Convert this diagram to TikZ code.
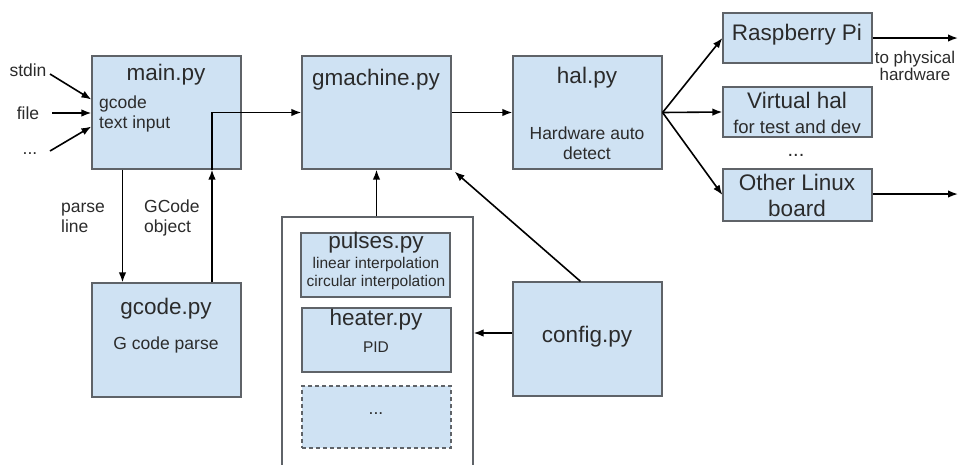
\documentclass[tikz,border=0pt]{standalone}
\usepackage{fontspec}
\setmainfont{Liberation Sans}
\usetikzlibrary{arrows.meta,calc}
\definecolor{boxfill}{HTML}{CFE2F3}
\definecolor{boxline}{HTML}{5F6368}
\definecolor{txt}{HTML}{2B2B2B}
\tikzset{
  box/.style={draw=boxline, fill=boxfill, line width=1.2pt, rectangle, inner sep=0pt},
  plainbox/.style={draw=boxline, fill=white, line width=1.2pt, rectangle, inner sep=0pt},
  dbox/.style={box, dashed, dash pattern=on 4pt off 3pt},
  arr/.style={draw=black, line width=1.6pt, -{Latex[length=10pt,width=7.5pt]}},
  ttl/.style={inner sep=0pt, text=txt, font=\fontsize{22.5}{26}\selectfont, align=center},
  sub/.style={inner sep=0pt, text=txt, font=\fontsize{17.5}{20}\selectfont, align=center},
  small/.style={inner sep=0pt, text=txt, font=\fontsize{15.5}{17.5}\selectfont, align=center},
  lbl/.style={inner sep=0pt, text=txt, font=\fontsize{17.5}{20}\selectfont, align=left},
}
\begin{document}
\begin{tikzpicture}[x=1pt,y=-1pt]
\useasboundingbox (0,0) rectangle (963,464);
\clip (0,0) rectangle (963,464);
% boxes
\node[box, minimum width=149pt, minimum height=113pt] (main) at (166.5,112.5) {};
\node[box, minimum width=149pt, minimum height=114pt] (gc) at (166.5,340) {};
\node[box, minimum width=149pt, minimum height=113pt] (gm) at (376.5,112.5) {};
\node[box, minimum width=149pt, minimum height=113pt] (hal) at (587.5,112.5) {};
\node[box, minimum width=149pt, minimum height=114pt] (cfg) at (587.5,339) {};
\node[plainbox, minimum width=191pt, minimum height=260pt] (cont) at (377.5,347) {};
\node[box, minimum width=149pt, minimum height=64pt] (pul) at (375.5,265) {};
\node[box, minimum width=149pt, minimum height=64pt] (heat) at (376.5,340) {};
\node[dbox, minimum width=149pt, minimum height=62pt] (more) at (376.5,417) {};
\node[box, minimum width=149pt, minimum height=50pt] (rpi) at (797.5,38) {};
\node[box, minimum width=149pt, minimum height=50pt] (vh) at (797.5,112) {};
\node[box, minimum width=149pt, minimum height=52pt] (ol) at (797.5,195) {};
% texts
\node[ttl] (tmain) at (166,75) {main.py};
\node[lbl, anchor=west] (tmain2) at (99,114) {gcode\\text input};
\node[ttl] (tgc) at (166,309) {gcode.py};
\node[sub] (tgc2) at (166,345) {G code parse};
\node[ttl] (tgm) at (376,80) {gmachine.py};
\node[ttl] (thal) at (587,78) {hal.py};
\node[sub] (thal2) at (587,143) {Hardware auto\\detect};
\node[ttl] (tcfg) at (587,337) {config.py};
\node[ttl] (tpul) at (376,243) {pulses.py};
\node[small] (tpul2) at (376,273.5) {linear interpolation\\circular interpolation};
\node[ttl] (theat) at (376,320) {heater.py};
\node[small] (theat2) at (376,347) {PID};
\node[sub, anchor=base] (tmore) at (376,414) {...};
\node[ttl] (trpi) at (797,35) {Raspberry Pi};
\node[ttl] (tvh) at (797,100) {Virtual hal};
\node[sub, font=\fontsize{18.5}{20}\selectfont] (tvh2) at (797,127) {for test and dev};
\node[ttl] (tol) at (797,195) {Other Linux\\board};
\node[sub, font=\fontsize{20}{22}\selectfont, anchor=base] (tdots) at (796,156) {...};
\node[sub, font=\fontsize{17}{17}\selectfont] (tphys) at (915,66) {to physical\\hardware};
% left inputs
\node[lbl] (stdin) at (28,70) {stdin};
\node[lbl] (file) at (28,113) {file};
\node[lbl, anchor=base] (dots) at (30,154) {...};
\coordinate (s1) at (50,74);
\coordinate (s2) at (52,113);
\coordinate (s3) at (50,151);
\draw[arr] (s1) -- ([yshift=13pt]main.west);
\draw[arr] (s2) -- (main.west |- s2);
\draw[arr] (s3) -- ([yshift=-14pt]main.west);
% main <-> gcode
\node[lbl, anchor=west] (tparse) at (61,218) {parse\\line};
\node[lbl, anchor=west] (tobj) at (144,218) {GCode\\object};
\draw[arr] ([xshift=-44pt]main.south) -- ([xshift=-44pt]gc.north);
\coordinate (up) at ([xshift=45.5pt]main.south);
\draw[arr] ([xshift=45.5pt]gc.north) -- (up);
\draw[arr] (up) |- (gm.west);
% gmachine -> hal
\draw[arr] (gm.east) -- (hal.west);
% container -> gmachine
\draw[arr] (cont.north -| gm.south) -- (gm.south);
% config
\draw[arr] ([yshift=6pt]cfg.west) -- ([yshift=6pt]cfg.west -| cont.east);
\draw[arr] ([xshift=-7pt]cfg.north) -- ([shift={(3pt,-2pt)}]gm.south east);
% hal -> boards
\draw[arr] (hal.east) -- (rpi.west);
\draw[arr] (hal.east) -- (vh.west);
\draw[arr] (hal.east) -- (ol.west);
\coordinate (o1) at (958,38);
\coordinate (o2) at (958,194);
\draw[arr] (rpi.east) -- (o1);
\draw[arr] (ol.east |- o2) -- (o2);
\end{tikzpicture}
\end{document}
